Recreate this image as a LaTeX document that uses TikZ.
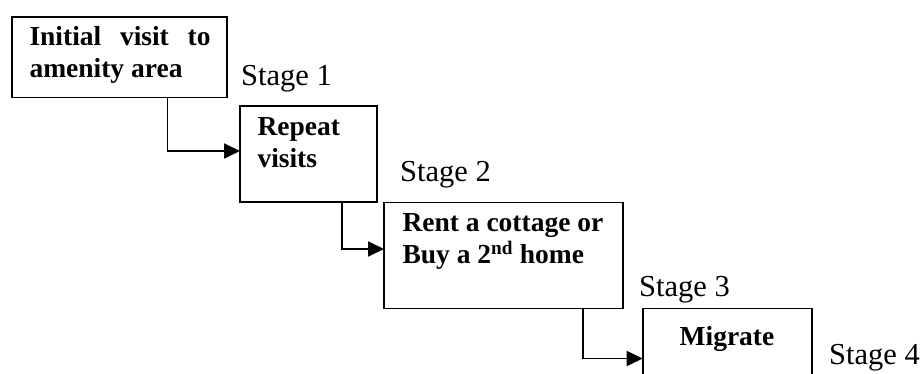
\documentclass[tikz,border=0pt]{standalone}
\usepackage{fontspec}
\setmainfont{Liberation Serif}
\usetikzlibrary{arrows.meta}
\tikzset{
  stagebox/.style={draw, line width=1.8pt, rectangle, inner sep=0pt, outer sep=0pt, anchor=north west},
  boxtext/.style={anchor=base west, inner sep=0pt, font=\fontsize{27.5}{32}\selectfont\bfseries},
  stagelabel/.style={anchor=base west, inner sep=0pt, font=\fontsize{30.5}{36}\selectfont},
  conn/.style={line width=1.8pt, -{Triangle[length=16pt,width=15pt]}}
}
\begin{document}
\begin{tikzpicture}[x=1pt,y=-1pt]
\clip (0,0) rectangle (924,374);
\fill[white] (0,0) rectangle (924,374);
% boxes
\node[stagebox, minimum width=215pt, minimum height=80.5pt] (b1) at (12,17) {};
\node[stagebox, minimum width=137pt, minimum height=96pt] (b2) at (240,106) {};
\node[stagebox, minimum width=239pt, minimum height=106pt] (b3) at (384,202.5) {};
\node[stagebox, minimum width=169pt, minimum height=100pt] (b4) at (642.7,308.5) {};
% box texts
\node[boxtext] (t1a) at (29.3,45.7) {\hbox to 181pt{Initial\hfill visit\hfill to}};
\node[boxtext] (t1b) at (29.3,77.3) {amenity area};
\node[boxtext] (t2a) at (257.3,135.7) {Repeat};
\node[boxtext] (t2b) at (257.3,167.7) {visits};
\node[boxtext] (t3a) at (402.3,231.7) {Rent a cottage or};
\node[boxtext] (t3b) at (402.3,264) {Buy a 2\textsuperscript{nd} home};
\node[boxtext, anchor=base] (t4) at (727,345) {Migrate};
% stage labels
\node[stagelabel] (s1) at (241,85.5) {Stage 1};
\node[stagelabel] (s2) at (400,181.5) {Stage 2};
\node[stagelabel] (s3) at (639,296) {Stage 3};
\node[stagelabel] (s4) at (829,364) {Stage 4};
% connectors
\draw[conn] ([xshift=155.5pt]b1.south west) |- ([yshift=-45pt]b2.north west);
\draw[conn] ([xshift=102.3pt]b2.south west) |- ([yshift=-143pt]b2.north east -| b3.west);
\draw[conn] ([xshift=199.3pt]b3.south west) |- ([yshift=-50pt]b4.north west);
\end{tikzpicture}
\end{document}
